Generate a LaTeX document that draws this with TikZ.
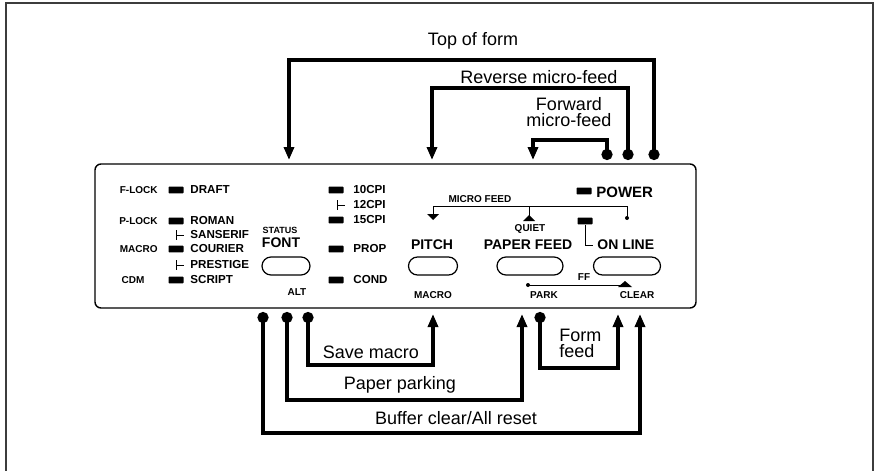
\documentclass[tikz,border=0pt]{standalone}
\usepackage{fontspec}
\setmainfont{Liberation Sans}
\usepackage{tikz}
\usetikzlibrary{arrows.meta,positioning}
\definecolor{framegray}{RGB}{60,60,60}

\begin{document}
\begin{tikzpicture}[x=0.5pt, y=-0.5pt,
    funtext/.style={font=\fontsize{9}{8}\selectfont, align=center, inner sep=0pt},
    keytext/.style={font=\bfseries\fontsize{7}{8}\selectfont, inner sep=0pt},
    opttext/.style={font=\bfseries\fontsize{5.8}{6.5}\selectfont, inner sep=0pt, anchor=west},
    tinytext/.style={font=\bfseries\fontsize{5}{6}\selectfont, inner sep=0pt},
    led/.style={fill=black, rounded corners=0.4pt, minimum width=7.5pt, minimum height=3.4pt, inner sep=0pt},
    button/.style={draw, line width=0.6pt, rounded corners=4.5pt, minimum height=9pt, inner sep=0pt},
    conn/.style={line width=2pt, {Circle[length=5.5pt]}-{Triangle[length=6.5pt,width=5pt]}},
    hair/.style={line width=0.5pt}
]
\useasboundingbox (0,0) rectangle (874,471);

% outer frame and panel
\draw[line width=1pt, framegray] (6,475) -- (6,3) -- (873,3) -- (873,475);
\draw[line width=0.7pt, rounded corners=3pt] (95,164) rectangle (696,308);

% font column
\node[tinytext, anchor=east] (flock) at (158,190) {F-LOCK};
\node[tinytext, anchor=east] (plock) at (158,221) {P-LOCK};
\node[tinytext, anchor=east] (macro) at (158,249) {MACRO};
\node[tinytext] (cdm) at (133,280) {CDM};
\node[led] (ledDraft) at (176,190) {};
\node[led] (ledRoman) at (176,221) {};
\node[led] (ledCourier) at (176,249) {};
\node[led] (ledScript) at (176,280) {};
\node[opttext] (draft) at (190,190) {DRAFT};
\node[opttext] (roman) at (190,221) {ROMAN};
\node[opttext] (sanserif) at (190,235) {SANSERIF};
\node[opttext] (courier) at (190,249) {COURIER};
\node[opttext] (prestige) at (190,265) {PRESTIGE};
\node[opttext] (script) at (190,280) {SCRIPT};
\draw[hair] (176,230) -- (176,240) (176,235) -- (184,235);
\draw[hair] (176,260) -- (176,270) (176,265) -- (184,265);

% font key
\node[font=\bfseries\fontsize{4.5}{5}\selectfont, inner sep=0pt] (status) at (280,230) {STATUS};
\node[keytext] (fontkey) at (281,243) {FONT};
\node[button, minimum width=24pt] (bFont) at (286,266) {};
\node[tinytext] (alt) at (297,292) {ALT};

% pitch column
\node[led] (led10) at (336,190) {};
\node[led] (led15) at (336,220) {};
\node[led] (ledProp) at (336,249) {};
\node[led] (ledCond) at (336,280) {};
\node[opttext] (cpi10) at (353,190) {10CPI};
\node[opttext] (cpi12) at (353,205) {12CPI};
\node[opttext] (cpi15) at (353,220) {15CPI};
\node[opttext] (prop) at (353,249) {PROP};
\node[opttext] (cond) at (353,280) {COND};
\draw[hair] (337,200) -- (337,210) (337,205) -- (345,205);

% pitch, paper feed, on line keys
\node[led] (ledPower) at (584,191) {};
\node[keytext, anchor=west, font=\bfseries\fontsize{7.5}{8}\selectfont] (power) at (596,192) {POWER};
\node[tinytext] (micro) at (480,199) {MICRO FEED};
\draw[hair] (433,215) -- (433,206) -- (627,206) -- (627,218);
\draw[hair] (529,206) -- (529,216);
\fill (427,214) -- (439,214) -- (433,220) -- cycle;
\fill (523,221) -- (535,221) -- (529,215) -- cycle;
\fill (627,218) circle (1pt);
\node[tinytext] (quiet) at (530,229) {QUIET};
\node[keytext] (pitch) at (432,245) {PITCH};
\node[keytext] (pfeed) at (528,245) {PAPER FEED};
\node[keytext, anchor=west] (online) at (597,245) {ON LINE};
\node[led] (ledLine) at (585,221) {};
\draw[hair] (ledLine.south) |- ([xshift=-2pt]online.west);
\node[button, minimum width=24.5pt] (bPitch) at (433,266) {};
\node[button, minimum width=33pt] (bFeed) at (530,266) {};
\node[button, minimum width=33.5pt] (bLine) at (627,266) {};
\node[tinytext] (ff) at (584,277) {FF};
\draw[hair] (528,285) -- (625,285);
\fill (528,285) circle (1pt);
\fill (618,287) -- (632,287) -- (625,281) -- cycle;
\node[tinytext] (macroalt) at (433,295) {MACRO};
\node[tinytext] (park) at (544,295) {PARK};
\node[tinytext] (clear) at (637,295) {CLEAR};

% key combinations at power on
\coordinate (tofIn) at (654,160);
\coordinate (tofOut) at (289,160);
\coordinate (revIn) at (628,160);
\coordinate (revOut) at (432,160);
\coordinate (fwdIn) at (607,160);
\coordinate (fwdOut) at (533,160);
\draw[conn] (tofIn) -- ++(0,-100) -| (tofOut);
\draw[conn] (revIn) -- ++(0,-72) -| (revOut);
\draw[conn] (fwdIn) -- ++(0,-20) -| (fwdOut);
\node[funtext] (tof) at (473,41) {Top of form};
\node[funtext] (rev) at (539,77) {Reverse micro-feed};
\node[funtext] (fwd) at (569,112) {Forward\\micro-feed};

\coordinate (bufIn) at (263,312);
\coordinate (bufOut) at (640,314);
\coordinate (parIn) at (287,312);
\coordinate (parOut) at (522,314);
\coordinate (savIn) at (308,312);
\coordinate (savOut) at (433,314);
\coordinate (ffIn) at (540,312);
\coordinate (ffOut) at (618,314);
\draw[conn] (bufIn) -- ++(0,121) -| (bufOut);
\draw[conn] (parIn) -- ++(0,88) -| (parOut);
\draw[conn] (savIn) -- ++(0,53) -| (savOut);
\draw[conn] (ffIn) -- ++(0,56) -| (ffOut);
\node[funtext] (buf) at (456,418) {Buffer clear/All reset};
\node[funtext] (par) at (400,385) {Paper parking};
\node[funtext] (sav) at (371,352) {Save macro};
\node[funtext, align=left, anchor=west] (ffd) at (559,343) {Form\\feed};

\end{tikzpicture}
\end{document}
